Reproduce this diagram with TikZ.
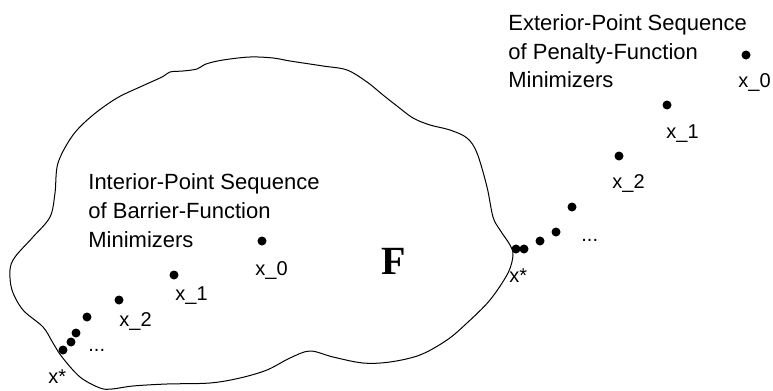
\documentclass[tikz,border=0pt]{standalone}
\usepackage{fontspec}
\setmainfont{Liberation Sans}
\newfontfamily\serifface{Liberation Serif}
\begin{document}
\begin{tikzpicture}[x=0.5pt,y=-0.5pt,
  pt/.style={circle,fill=black,inner sep=0pt,minimum size=4.5pt},
  lbl/.style={anchor=base west,inner sep=0pt,font=\fontsize{10}{12}\selectfont},
  caption/.style={anchor=base west,inner sep=0pt,font=\fontsize{11}{14}\selectfont},
  region/.style={line width=0.5pt,line join=round}
]
\useasboundingbox (0,0) rectangle (773,391);

% feasible region F
\draw[region] plot[smooth cycle, tension=0.55] coordinates {
  (58,163) (73,135) (93,115) (117,98) (140,87) (162,77) (170,72) (183,71)
  (197,69) (206,64) (223,60) (250,57) (273,58) (290,61) (323,66) (347,70)
  (367,82) (383,95) (397,106) (413,118) (430,125) (450,130) (467,138)
  (477,153) (487,187) (493,217) (500,230) (510,245) (513,255) (508,273)
  (490,300) (467,323) (447,340) (420,355) (390,362) (363,363) (333,357)
  (310,351) (290,358) (267,370) (240,378) (210,383) (167,384) (133,386)
  (112,389) (100,388) (80,377) (62,357) (53,343) (43,327) (23,310)
  (12,290) (10,270) (15,257) (33,237) (50,217) (55,193)};

\node[anchor=base west,inner sep=0pt,font=\serifface\bfseries\fontsize{20}{24}\selectfont] (F) at (381,274) {F};

% interior-point sequence
\node[caption] (inA) at (88,190) {Interior-Point Sequence};
\node[caption] (inB) at (88,219) {of Barrier-Function};
\node[caption] (inC) at (88,248) {Minimizers};

\node[pt] (i0) at (262,241) {};
\node[pt] (i1) at (174,275) {};
\node[pt] (i2) at (119,300) {};
\node[pt] (i3) at (87,317) {};
\node[pt] (i4) at (76,333) {};
\node[pt] (i5) at (71,342) {};
\node[pt] (i6) at (63,350) {};

\node[lbl] (li0) at (255,275) {x\_0};
\node[lbl] (li1) at (175,300) {x\_1};
\node[lbl] (li2) at (119,326) {x\_2};
\node[lbl] (lidots) at (88,351) {...};
\node[lbl] (listar) at (48,383) {x*};

% exterior-point sequence
\node[caption] (exA) at (508,31) {Exterior-Point Sequence};
\node[caption] (exB) at (508,60) {of Penalty-Function};
\node[caption] (exC) at (508,88) {Minimizers};

\node[pt] (e0) at (746,55) {};
\node[pt] (e1) at (667,105) {};
\node[pt] (e2) at (619,156) {};
\node[pt] (e3) at (572,207) {};
\node[pt] (e4) at (556,232) {};
\node[pt] (e5) at (540,241) {};
\node[pt] (e6) at (524,249) {};
\node[pt] (e7) at (516,249) {};

\node[lbl] (le0) at (738,88) {x\_0};
\node[lbl] (le1) at (666,139) {x\_1};
\node[lbl] (le2) at (612,188) {x\_2};
\node[lbl] (ledots) at (581,242) {...};
\node[lbl] (lestar) at (509,282) {x*};
\end{tikzpicture}
\end{document}
